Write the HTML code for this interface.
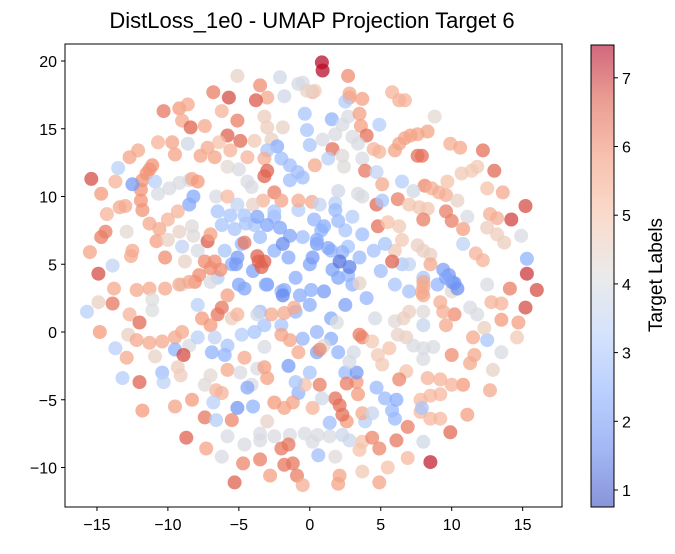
<!DOCTYPE html>
<html><head><meta charset="utf-8"><style>
body{margin:0;background:#fff;}
svg text{font-family:"Liberation Sans","DejaVu Sans",sans-serif;fill:#000;}
</style></head><body>
<svg id="chart" width="675" height="549" viewBox="0 0 675 549" xmlns="http://www.w3.org/2000/svg">
<defs>
<linearGradient id="cmapGrad" x1="0" y1="1" x2="0" y2="0">
<stop offset="0" stop-color="#3b4cc0" stop-opacity="0.6"/>
<stop offset="0.125" stop-color="#6588ed" stop-opacity="0.6"/>
<stop offset="0.25" stop-color="#8db0fe" stop-opacity="0.6"/>
<stop offset="0.375" stop-color="#b8d0f9" stop-opacity="0.6"/>
<stop offset="0.5" stop-color="#dddddd" stop-opacity="0.6"/>
<stop offset="0.625" stop-color="#f5c4ad" stop-opacity="0.6"/>
<stop offset="0.75" stop-color="#f49a7b" stop-opacity="0.6"/>
<stop offset="0.875" stop-color="#de604d" stop-opacity="0.6"/>
<stop offset="1" stop-color="#b40426" stop-opacity="0.6"/>
</linearGradient>
<clipPath id="plotClip"><rect x="65" y="44" width="497" height="463"/></clipPath>
</defs>
<text x="312" y="28" font-size="22" text-anchor="middle">DistLoss_1e0 - UMAP Projection Target 6</text>
<g id="points" clip-path="url(#plotClip)"></g>
<rect x="65" y="44" width="497" height="463" fill="none" stroke="#000" stroke-width="1"/>
<g id="xaxis"></g>
<g id="yaxis"></g>
<rect x="591" y="45" width="23" height="462" fill="url(#cmapGrad)" stroke="#000" stroke-width="1"/>
<g id="cbaxis"></g>
<text x="0" y="0" font-size="19" text-anchor="middle" transform="translate(662,275) rotate(-90)">Target Labels</text>
</svg>
<script>
const xTicks = [-15, -10, -5, 0, 5, 10, 15];
const yTicks = [20, 15, 10, 5, 0, -5, -10];
const cbTicks = [1, 2, 3, 4, 5, 6, 7];
const colorMin = 0.75;
const colorMax = 7.48;
const centerPoints = [
[-4.5,8.0,3.0],[-3.5,7.0,2.8],[-2.5,6.0,2.5],[-1.5,5.5,2.3],[-4.8,6.5,2.6],[-5.5,5.0,2.4],[-4.0,4.5,2.2],[-3.0,3.5,2.0],[-2.0,3.0,2.6],[-1.0,4.0,2.4],[0,5.0,2.2],[0.5,6.5,2.0],[0.8,7.5,2.5],[-0.5,7.0,2.8],[1.5,6.0,2.6],[2.0,4.0,2.2],[1.0,3.0,2.0],[0.0,2.0,2.4],[-1.0,1.5,2.6],[1.5,1.0,2.3],[2.5,2.0,2.1],[3.0,3.5,2.5],[3.5,5.5,2.7],[4.5,6.0,2.9],[5.0,4.5,2.8],[6.0,3.5,3.0],[7.0,3.0,2.9],[8.0,4.0,3.0],[9.0,3.5,2.6],[6.5,5.0,3.1],[4.0,2.5,2.6],[2.5,7.5,3.0],[3.0,8.5,3.2],[-2.5,8.5,2.6],[-6.0,6.0,3.0],[-6.5,4.0,3.2],[-3.5,1.5,2.8],[-2.0,0.5,3.0],[0.5,0.0,2.6],[1.5,-0.5,2.4],[0.5,-1.5,2.2],[-0.5,-0.5,2.6],[2.0,-1.5,2.5],[-0.8,9.0,3.2],[1.8,9.5,3.3],[-1.5,-2.5,2.0],[-0.8,-4.5,2.5],[0,-3.0,3.0],[2.5,-3.0,2.7],
[-8.5,-1,4.0],[-3.5,-7.5,4.0],[1,-1,4.2],[6,0.8,4.2],[-9,3.5,4.1],[-5,12,4.0],[8,-2,4.0],[10,3,4.3]
];
const upperPoints = [
[0.85,19.9,7.4],[0.9,19.3,7.4],[2.7,18.9,6.0],[0.2,17.7,5.3],[2.8,17.3,5.8],[6.3,17.1,5.4],
[-5.1,18.9,4.5],[-2.1,18.8,3.8],[-0.5,18.4,4.0],[0.35,17.8,4.6],
[-10.3,16.3,6.3],[-9.2,16.5,5.8],[-8.6,16.8,5.5],[-9.0,15.6,5.5],[-8.4,15.1,6.6],[-7.4,15.2,5.5],[-6.8,17.7,6.2],[-5.7,17.3,6.8],[-6.2,16.3,5.3],[-5.1,15.6,6.2],[-5.8,14.5,6.6],[-4.9,14.1,6.5],[-3.5,18.2,6.0],[-3.0,17.3,5.5],[-3.8,17.1,6.7],[-3.2,15.9,4.7],[-3.0,15.1,4.7],[-2.7,14.2,4.6],[-0.8,18.3,3.9],[-1.8,17.4,3.8],[-1.9,15.1,4.5],[-0.2,17.8,4.5],[-0.35,16.1,3.0],[-0.2,14.9,3.0],[0,13.8,3.0],
[-10.7,14.0,5.3],[-9.7,14.0,5.6],[-9.5,13.1,5.6],[-8.6,13.9,3.8],[-7.7,13.0,5.6],[-6.7,12.9,5.6],[-7.2,13.6,5.5],[-6.4,14.0,5.0],[-5.6,13.4,5.3],[-5.8,12.2,4.3],[-4.4,12.9,5.3],[-3.9,14.1,4.8],[-2.3,13.7,2.4],[-3.0,13.4,3.0],[-3.2,12.8,5.4],[-3.2,11.5,6.6],[-3.0,11.9,6.6],
[-2.0,12.8,2.8],[-1.4,12.3,2.8],[-0.85,11.8,2.8],[-0.5,11.4,2.8],[-1.4,11.2,2.8],
[-12.7,12.9,5.6],[-12.1,13.4,5.5],[-13.5,12.1,3.3],
[-11.3,12.0,5.9],[-11.1,12.3,5.9],[-11.5,11.7,5.9],[-11.8,11.2,5.9],[-11.9,10.5,5.9],[-11.9,9.7,5.9],[-11.8,9.0,5.9],
[-15.4,11.3,6.8],[-14.7,10.2,5.8],[-13.7,11.1,5.3],[-14.3,8.7,5.3],[-13.4,9.2,5.5],[-13.0,9.3,5.5],[-12.5,10.9,2.0],[-10.9,11.1,3.3],
[-10.7,10.2,4.0],[-9.9,10.6,4.0],[-9.2,11.0,4.0],[-8.5,11.2,4.0],
[-8.3,11.3,5.5],[-7.9,11.1,5.8],[-8.2,10.0,2.3],[-8.5,9.4,2.3],[-6.6,10.0,4.0],[-5.8,10.0,5.2],[-4.4,11.1,4.0],[-4.1,10.7,4.0],[-2.5,10.3,6.2],[-2.0,9.7,5.6],[-0.8,9.7,5.5],[0.15,9.6,5.5],[-3.3,9.7,5.3],[-4.0,9.4,4.5],[-2.5,8.9,3.0],[-5.1,9.4,3.5],
[-6.5,8.9,3.0],[-5.6,8.6,3.0],[-4.6,8.6,3.0],[-3.9,7.9,3.0],[-5.3,7.6,3.0],[-6.2,7.9,3.0],
[-3.7,8.5,2.2],[-3.0,7.9,2.2],[-2.1,7.7,2.2],[-1.4,7.1,2.2],[-1.9,6.5,1.7],
[-14.4,7.4,6.2],[-14.7,7.0,6.2],[-15.5,5.9,5.6],[-14.9,4.3,6.8],[-13.9,4.9,3.5],[-12.9,7.4,4.3],[-12.5,6.0,5.5],[-12.6,5.6,5.5],[-11.3,8.0,5.5],[-10.6,7.6,5.5],[-10.8,6.7,5.7],[-10.2,5.5,6.0],
[-10.0,8.3,5.3],[-9.3,8.9,5.3],
[-9.2,7.4,4.5],[-10.0,6.8,4.5],[-9.0,6.3,3.5],[-8.3,7.8,4.2],[-8.2,7.1,4.2],
[-7.2,6.7,6.7],[-7.0,7.2,5.7],[-7.9,6.0,4.0],
[-7.4,5.2,6.0],[-6.7,5.2,6.0],[-6.3,4.6,6.0],[-7.0,4.7,6.0],[-7.8,4.2,6.0],[-8.1,3.7,6.0],
[-8.8,5.2,4.5],[-4.6,6.6,6.3],[-3.7,5.6,6.6],[-3.6,5.2,6.6],[-3.2,5.2,6.6],[-3.4,4.8,6.6],
[-5.1,5.5,2.0],[-5.2,5.0,2.0],
[2.5,17.0,3.2],[2.8,17.6,5.5],[3.7,17.2,5.7],[1.55,15.7,2.5],
[2.7,15.9,4.0],[2.3,15.3,4.0],[1.8,14.6,4.0],
[3.5,16.1,5.7],[3.6,15.2,5.7],[4.9,15.3,3.2],[4.0,14.5,6.4],[3.0,14.4,4.0],[3.4,13.9,4.0],[0.9,14.2,4.0],[1.6,13.5,6.4],[2.3,13.0,4.2],[2.4,12.2,4.2],[1.3,12.8,3.3],[0.35,12.3,5.5],[3.7,12.8,4.0],[4.9,13.3,5.3],[4.5,13.5,5.3],[3.9,11.9,6.3],[4.7,11.8,3.5],
[5.8,17.7,5.3],[6.7,17.1,5.3],[8.8,15.9,4.3],
[6.0,13.4,5.6],[6.3,13.9,5.6],[6.7,14.3,5.6],[7.6,14.6,5.6],[8.3,14.8,5.6],[7.1,14.5,5.6],
[7.6,13.0,6.4],[7.9,13.0,6.4],[9.9,13.9,5.4],[10.6,13.6,5.5],[12.2,13.4,6.4],[13.0,11.9,6.5],[11.8,12.2,4.8],[11.4,11.9,4.8],[10.7,11.7,4.8],[9.7,11.1,5.0],[12.5,10.6,5.0],[13.6,10.3,5.5],[15.2,9.3,6.8],[14.2,8.3,6.9],[14.9,7.1,4.0],[15.3,5.4,2.5],[15.3,4.3,7.0],
[5.1,10.9,5.5],[6.5,11.1,3.2],[8.1,10.8,6.1],[9.1,10.3,5.4],[9.6,10.1,5.4],[8.6,10.6,5.4],[7.3,10.4,3.8],[6.2,9.8,6.2],[7.0,9.4,4.9],[7.7,9.2,4.9],[8.3,9.1,4.9],[8.0,8.3,6.2],[9.6,8.9,6.2],[10.0,8.2,6.2],[10.4,9.7,4.5],[11.1,8.5,4.0],[12.7,8.7,5.4],[13.2,8.4,5.4],
[12.5,7.7,4.7],[13.2,7.2,4.7],[13.7,6.6,4.7],[10.8,7.6,5.7],[10.8,6.5,3.4],[11.7,5.8,5.3],[12.2,5.3,5.3],
[4.7,9.4,6.5],[5.1,9.7,3.0],[3.7,10.0,4.0],[3.4,10.2,4.0],[2.0,10.4,3.8],[0.7,9.4,3.5],[1.8,9.0,2.7],[2.0,8.2,2.7],
[4.8,7.8,6.4],[5.5,8.1,5.0],[6.3,7.8,4.8],[6.5,6.8,4.8],[6.0,6.0,4.8],[7.6,6.4,4.6],[8.5,5.7,4.6],[8.0,6.0,4.6],
[5.8,5.2,6.6],[7.0,5.0,3.5],[8.5,5.0,5.5],[9.4,4.6,2.1],[9.8,4.2,2.0],[10.2,3.6,1.8],[2.7,6.3,3.0],[3.7,7.2,2.8],[5.3,6.5,3.0],
[0.3,8.3,2.6],[1.0,7.8,2.4],[0.5,6.8,2.3],[1.3,6.2,2.2],[2.3,5.9,2.5],[0.2,5.5,2.0],[1.6,4.6,2.2],[2.7,4.2,2.6],
[2.1,5.2,1.3],[2.8,4.8,1.5]
];
const lowerPoints = [
[-13.8,3.2,5.5],[-14.9,2.2,4.6],[-13.9,2.1,6.3],[-15.7,1.5,3.3],[-12.7,1.3,5.3],[-12.0,0.7,6.5],[-14.8,0,5.8],[-12.8,-0.2,4.6],[-13.7,-1.2,3.3],[-12.9,-1.9,5.5],[-13.2,-3.4,3.2],[-12.0,-3.7,6.6],[-11.8,-5.8,5.8],
[-12.2,3.1,5.5],[-11.3,3.2,5.5],[-10.2,3.2,5.5],[-9.2,3.5,5.5],[-8.5,3.7,5.5],
[-11.1,2.4,4.1],[-11.1,1.6,4.1],
[-12.2,-0.6,5.5],[-11.3,-0.8,5.5],[-10.4,-0.7,5.5],[-9.5,-0.4,5.5],[-9.0,0,5.5],
[-10.9,-1.8,4.5],[-9.5,-1.3,2.5],[-8.9,-1.7,6.8],[-10.4,-3.0,2.8],[-10.3,-3.7,3.4],[-9.3,-2.6,4.7],[-9.1,-3.2,4.7],
[-7.9,2.0,3.3],[-7.0,3.7,4.0],[-6.2,1.8,6.3],[-6.5,1.3,6.3],[-5.8,2.7,5.7],[-5.5,1.0,4.6],[-4.6,3.2,2.2],[-5.0,3.5,2.2],
[-3.1,3.5,2.4],[-1.8,3.1,2.4],[-0.7,2.7,2.4],[0.1,3.1,2.4],[-1.9,2.7,1.6],
[-7.6,1.0,5.8],[-7.0,0.5,5.8],[-7.9,-0.4,3.3],[-6.7,-0.4,3.5],[-5.8,-1.0,3.0],[-6.0,-1.7,2.6],[-6.9,-1.5,2.5],[-4.8,-0.2,3.2],[-3.9,0,3.0],[-3.2,0.5,3.0],[-3.7,1.3,3.8],[-5.1,1.3,5.3],
[-2.7,1.3,5.5],[-1.8,1.4,5.5],[-1.1,1.8,5.5],
[-2.0,-0.2,5.6],[-1.4,-0.6,5.6],[-0.8,-1.5,5.5],[-3.2,-1.1,4.0],[-4.6,-1.9,5.5],[-5.8,-2.8,5.5],[-3.7,-2.7,4.0],[-4.9,-3.0,4.0],[-3.0,-3.4,5.7],[-3.2,-2.6,5.7],[-4.1,-3.9,4.0],[-4.4,-4.1,2.3],[-5.1,-5.6,1.9],[-4.0,-5.5,2.5],
[-6.2,-4.5,5.3],[-6.6,-4.3,5.3],[-7.0,-3.2,4.3],[-7.4,-3.9,4.2],[-6.8,-5.2,3.3],[-7.4,-6.3,6.3],[-6.6,-6.5,3.2],[-5.5,-6.5,6.1],[-8.3,-5.0,5.8],[-9.5,-5.5,5.6],[-8.7,-7.8,6.6],[-7.3,-8.6,5.6],[-6.2,-9.2,4.0],[-5.8,-7.7,4.0],[-4.7,-9.7,6.1],[-3.5,-9.4,6.2],[-5.3,-11.1,6.6],[-2.8,-10.6,5.7],
[-4.6,-8.3,4.0],[-3.5,-8.0,4.0],[-2.5,-7.7,4.0],[-1.4,-7.6,4.0],[-0.35,-7.5,4.0],[0.55,-7.6,4.0],[1.4,-7.7,4.0],
[-2.0,-8.6,6.3],[-1.5,-8.3,6.3],[-1.2,-9.7,6.3],[-1.8,-9.8,6.3],[-0.9,-10.6,6.2],[-0.5,-11.3,5.4],[-3.0,-6.6,4.5],[-1.8,-5.6,5.6],[-1.2,-5.2,5.6],[-2.5,-5.2,5.8],[-0.35,-3.9,5.0],[-1.0,-3.7,3.0],
[16.0,3.1,6.8],[14.1,3.2,6.2],[12.5,3.5,4.0],[12.8,2.2,5.3],[13.5,2.1,5.3],[15.2,1.8,6.8],[13.5,0.9,5.8],[14.7,0.7,5.7],[14.6,-0.4,4.8],[13.5,-1.5,4.0],[12.9,-2.8,4.5],[12.7,-4.3,5.5],
[11.3,1.8,4.0],[11.8,1.3,4.0],
[12.5,-0.6,3.0],[12.3,0.3,4.6],[11.5,-0.4,5.5],[10.0,-1.7,6.0],[11.6,-1.7,5.5],[11.3,-2.3,5.5],[10.8,-3.9,5.8],[11.1,-6.1,5.7],[9.9,-7.4,6.5],[8.5,-9.6,7.2],
[10.2,1.3,6.0],[9.6,0.5,5.5],[9.2,2.2,5.4],[9.4,1.5,5.4],[8.0,2.7,5.5],[8.0,1.5,4.2],[8.0,0.5,3.6],[8.0,3.7,5.5],[7.9,2.9,5.5],
[7.0,1.5,4.6],[6.6,1.0,4.6],[6.8,-0.4,4.6],[8.0,-1.2,4.0],[7.3,-1.0,4.0],[8.7,-1.1,4.0],[6.2,-0.2,4.5],[4.6,1.0,3.9],[3.7,-0.4,6.1],[4.4,-0.7,4.8],[4.8,-1.7,4.8],[5.1,-2.4,4.8],[5.6,-1.2,5.0],[6.8,-2.9,5.0],[6.3,-3.5,6.1],
[8.3,-3.4,5.3],[9.2,-3.5,5.3],[10.0,-3.9,5.3],
[7.8,-5.0,5.2],[8.5,-4.7,5.2],[9.2,-4.6,5.2],[7.8,-5.9,5.2],[8.5,-6.4,5.2],[9.2,-6.4,5.2],[7.9,-5.6,3.0],
[4.7,-4.1,2.7],[5.3,-4.9,2.7],[5.8,-5.8,2.7],[6.0,-6.4,2.7],[6.1,-5.0,2.4],
[6.9,-7.0,6.2],[6.1,-8.0,6.3],[8.0,-8.1,3.8],[6.9,-9.3,5.2],[5.5,-10.0,5.0],[4.9,-11.1,5.6],[3.7,-10.3,4.8],[2.1,-10.6,5.6],[2.0,-11.2,5.6],[1.8,-9.2,4.2],[0.6,-9.1,2.8],
[3.5,-8.7,5.0],[3.7,-8.1,5.0],[4.4,-7.8,6.1],[4.9,-8.6,6.1],[2.3,-7.6,3.7],[2.8,-8.0,3.7],[1.4,-6.7,2.8],[2.6,-6.6,5.8],[3.9,-6.6,3.3],[3.7,-6.0,5.5],[4.4,-6.0,3.6],
[1.8,-4.9,6.4],[2.1,-5.4,6.4],[2.3,-6.1,6.4],[3.3,-3.7,5.8],[3.4,-4.6,5.8],[2.6,-3.8,6.2],[3.3,-3.0,2.0],[3.1,-1.5,3.9],[2.8,-2.2,3.9],[1.9,0.7,4.1],[3.5,-0.2,6.2],[0.7,-1.3,6.0],[0.7,-3.9,6.2],[0.85,-4.9,3.8],[0.2,-5.6,5.3],[0.2,-8.1,4.0],
[3.5,3.6,4.5],[8.0,3.3,5.5],[10.0,3.7,2.0],[9.6,4.0,2.2],[10.4,3.2,1.8]
];

const NS = "http://www.w3.org/2000/svg";
function xScale(v){ return 309.8 + v * 14.19; }
function yScale(v){ return 332 - v * 13.55; }
function cbScale(v){ return 490 - (v - 1) * 68.7; }
const cmapStops = [[59,76,192],[101,136,237],[141,176,254],[184,208,249],[221,221,221],[245,196,173],[244,154,123],[222,96,77],[180,4,38]];
function cmap(v){
  let t = (v - colorMin) / (colorMax - colorMin);
  t = Math.max(0, Math.min(1, t)) * (cmapStops.length - 1);
  const i = Math.min(cmapStops.length - 2, Math.floor(t));
  const f = t - i;
  const a = cmapStops[i], b = cmapStops[i+1];
  return "rgb(" + [0,1,2].map(k => Math.round(a[k] + (b[k]-a[k]) * f)).join(",") + ")";
}
function fmt(v){ return v < 0 ? "\u2212" + Math.abs(v) : String(v); }

const gPts = document.getElementById("points");
[centerPoints, upperPoints, lowerPoints].forEach(list => {
  list.forEach(p => {
    const c = document.createElementNS(NS, "circle");
    c.setAttribute("cx", xScale(p[0]).toFixed(1));
    c.setAttribute("cy", yScale(p[1]).toFixed(1));
    c.setAttribute("r", 7);
    c.setAttribute("fill", cmap(p[2]));
    c.setAttribute("fill-opacity", 0.75);
    
    
    gPts.appendChild(c);
  });
});

const gx = document.getElementById("xaxis");
xTicks.forEach(v => {
  const x = xScale(v);
  const l = document.createElementNS(NS, "line");
  l.setAttribute("x1", x); l.setAttribute("x2", x);
  l.setAttribute("y1", 507); l.setAttribute("y2", 511);
  l.setAttribute("stroke", "#000");
  
  
  gx.appendChild(l);
  const t = document.createElementNS(NS, "text");
  t.setAttribute("x", x); t.setAttribute("y", 530);
  t.setAttribute("font-size", 16); t.setAttribute("text-anchor", "middle");
  t.textContent = fmt(v);
  
  
  gx.appendChild(t);
});
const gy = document.getElementById("yaxis");
yTicks.forEach(v => {
  const y = yScale(v);
  const l = document.createElementNS(NS, "line");
  l.setAttribute("x1", 61); l.setAttribute("x2", 65);
  l.setAttribute("y1", y); l.setAttribute("y2", y);
  l.setAttribute("stroke", "#000");
  
  
  gy.appendChild(l);
  const t = document.createElementNS(NS, "text");
  t.setAttribute("x", 57); t.setAttribute("y", y + 6);
  t.setAttribute("font-size", 16); t.setAttribute("text-anchor", "end");
  t.textContent = fmt(v);
  
  
  gy.appendChild(t);
});
const gc = document.getElementById("cbaxis");
cbTicks.forEach(v => {
  const y = cbScale(v);
  const l = document.createElementNS(NS, "line");
  l.setAttribute("x1", 614); l.setAttribute("x2", 618);
  l.setAttribute("y1", y); l.setAttribute("y2", y);
  l.setAttribute("stroke", "#000");
  
  
  gc.appendChild(l);
  const t = document.createElementNS(NS, "text");
  t.setAttribute("x", 622); t.setAttribute("y", y + 6);
  t.setAttribute("font-size", 16);
  t.textContent = String(v);
  
  
  gc.appendChild(t);
});
</script>
</body></html>
